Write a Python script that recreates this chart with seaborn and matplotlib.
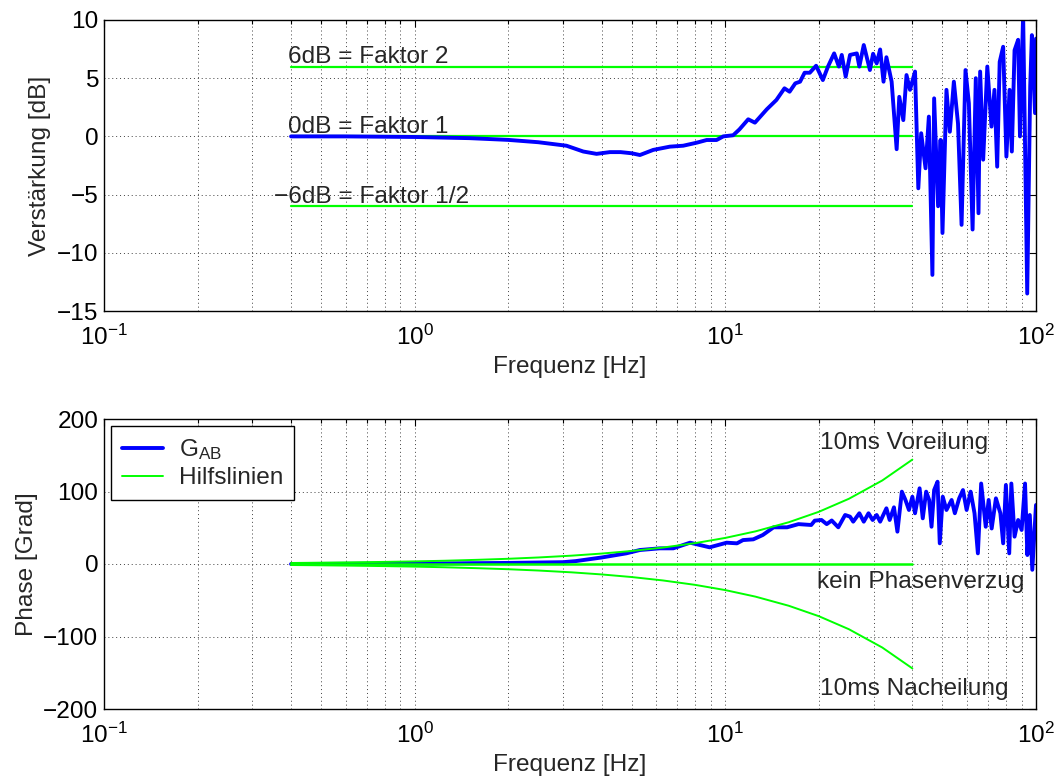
import numpy as np
import pandas as pd
import matplotlib
matplotlib.use("Agg")
import matplotlib.pyplot as plt
import seaborn as sns

# ---------------- data ----------------
gain_freq = [0.4, 0.6, 1.0, 1.5, 2.0, 2.5, 3.08, 3.49, 3.85, 4.25, 4.6, 5.0, 5.31, 5.86, 6.63, 7.32,
             8.09, 8.71, 9.37, 9.85, 10.6, 11.1, 11.85, 12.45, 13.6, 14.6, 15.5, 16.1, 16.8, 17.4,
             18.0, 18.7, 19.6, 20.6, 21.4, 22.4, 23.2, 23.7, 24.4, 25.2, 26.5, 27.0, 27.9, 29.2,
             29.9, 30.7, 31.5, 32.3, 33.0, 34.3, 35.6, 36.3, 37.4, 38.3, 39.3, 40.8, 41.8, 42.7,
             44.1, 45.2, 46.4, 47.0, 48.4, 49.3, 50.0, 51.5, 52.8, 54.4, 56.1, 57.6, 59.3, 60.8,
             62.5, 64.0, 65.3, 66.1, 67.6, 69.7, 71.9, 73.5, 75.0, 76.4, 78.4, 80.3, 82.2, 83.6,
             85.3, 87.6, 88.8, 90.9, 93.7, 95.8, 97.0, 99.3, 100.0]
gain_db = [0.0, 0.0, -0.05, -0.15, -0.3, -0.5, -0.8, -1.3, -1.5, -1.35, -1.35, -1.45, -1.6, -1.16,
           -0.88, -0.8, -0.54, -0.31, -0.31, 0.0, 0.1, 0.6, 1.47, 1.18, 2.33, 3.13, 4.13, 3.84,
           4.56, 4.7, 5.47, 5.47, 6.07, 4.84, 6.0, 7.13, 6.0, 7.0, 5.13, 7.0, 7.13, 6.0, 7.85,
           5.7, 7.1, 6.27, 7.47, 4.7, 6.8, 4.7, -1.1, 3.4, 1.4, 5.27, 4.0, 5.57, -4.46, 0.27,
           -2.74, 1.7, -11.9, 3.27, -6.0, -0.3, -8.3, 4.0, 0.4, 4.7, 1.1, -7.6, 5.7, 2.85,
           -8.0, 5.0, -6.6, 5.57, -2.0, 6.0, 0.84, 4.0, -2.6, 6.4, 7.7, -1.74, 4.0, -1.3,
           7.4, 8.3, 0.0, 10.5, -13.5, 4.3, 8.7, 2.0, 8.4]

phase_freq = [0.4, 1.0, 2.0, 3.0, 3.3, 4.0, 4.8, 5.31, 6.15, 6.8, 7.7, 8.9, 10.1, 10.9, 11.4, 12.3,
              13.2, 14.3, 15.8, 17.2, 18.9, 19.4, 20.4, 21.2, 22.0, 23.1, 24.3, 25.2, 25.8, 27.0,
              27.9, 28.9, 29.8, 30.7, 31.5, 33.0, 33.8, 34.9, 35.8, 37.0, 38.0, 39.0, 40.0, 40.8,
              42.2, 43.2, 44.3, 45.3, 46.1, 47.0, 48.2, 49.0, 50.1, 51.5, 53.5, 54.8, 56.6, 58.2,
              59.8, 61.6, 63.4, 65.0, 66.6, 68.9, 70.4, 72.0, 74.3, 76.8, 78.4, 80.0, 82.0, 83.3,
              85.3, 87.6, 89.9, 92.2, 93.8, 95.5, 97.3, 100.0]
phase_deg = [0.0, 0.5, 1.5, 2.5, 4.0, 9.0, 14.7, 19.3, 21.6, 21.6, 29.4, 23.0, 29.4, 28.5, 33.0,
             34.0, 40.0, 50.6, 50.6, 55.0, 53.8, 59.8, 60.7, 55.0, 60.0, 50.6, 67.6, 65.3, 58.4,
             70.0, 58.4, 70.0, 60.7, 67.6, 58.4, 76.8, 60.7, 78.2, 44.6, 99.8, 88.3, 74.5, 92.8,
             70.0, 104.4, 63.0, 99.8, 88.3, 51.4, 102.0, 113.5, 28.5, 92.8, 74.5, 88.3, 70.0,
             90.6, 102.0, 74.5, 99.8, 70.0, 14.7, 111.0, 51.4, 88.3, 49.0, 90.6, 70.0, 28.5,
             109.0, 14.7, 111.0, 37.7, 60.7, 46.9, 111.0, 12.4, 67.6, -8.0, 81.4]

help_freq = [0.4, 0.5, 0.63, 0.8, 1.0, 1.25, 1.6, 2.0, 2.5, 3.2, 4.0, 5.0, 6.3, 8.0, 10.0,
             12.5, 16.0, 20.0, 25.0, 32.0, 40.0]
lead_deg = [1.4, 1.8, 2.3, 2.9, 3.6, 4.5, 5.8, 7.2, 9.0, 11.5, 14.4, 18.0, 22.7, 28.8, 36.0,
            45.0, 57.6, 72.0, 90.0, 115.2, 144.0]
lag_deg = [-v for v in lead_deg]
flat_freq = [0.4, 40.0]
flat_zero = [0.0, 0.0]
db_levels = [6.0, 0.0, -6.0]
db_labels = ["6dB = Faktor 2", "0dB = Faktor 1", "\u22126dB = Faktor 1/2"]

# ---------------- style ----------------
FS = 17.6
sns.set_theme(style="white")
plt.rcParams["font.family"] = ["Liberation Sans", "DejaVu Sans"]
plt.rcParams["font.size"] = FS
plt.rcParams["axes.unicode_minus"] = True
plt.rcParams["mathtext.fontset"] = "custom"
plt.rcParams["mathtext.rm"] = "Liberation Sans"
plt.rcParams["mathtext.it"] = "Liberation Sans:italic"
plt.rcParams["mathtext.bf"] = "Liberation Sans:bold"

BLUE = "#0000FF"
GREEN = "#00FF00"

fig = plt.figure(figsize=(10.56, 7.78), dpi=100)
ax1 = fig.add_axes([104 / 1056, (778 - 311) / 778, 932 / 1056, 291 / 778])
ax2 = fig.add_axes([104 / 1056, (778 - 709) / 778, 932 / 1056, 290 / 778])


def style_axes(ax, ylim, yticks):
    ax.set_xscale("log")
    ax.set_xlim(0.1, 100)
    ax.set_ylim(*ylim)
    ax.set_yticks(yticks)
    ax.grid(True, which="major", axis="both", color="0.25", linestyle=(0, (1, 3)), linewidth=0.7)
    ax.grid(True, which="minor", axis="x", color="0.25", linestyle=(0, (1, 3)), linewidth=0.7)
    ax.tick_params(which="both", direction="in", top=True, right=True, labelsize=FS,
                   colors="black", width=0.8)
    ax.tick_params(which="major", length=5)
    ax.tick_params(which="minor", length=3)
    ax.tick_params(axis="x", pad=10)
    ax.tick_params(axis="y", pad=4)
    for s in ax.spines.values():
        s.set_color("black")
        s.set_linewidth(1.0)
    ax.set_xlabel("Frequenz [Hz]", fontsize=FS, labelpad=4)
    ax.set_facecolor("white")


# ---------------- top: gain ----------------
for lvl in db_levels:
    sns.lineplot(x=flat_freq, y=[lvl, lvl], ax=ax1, color=GREEN, linewidth=1.6,
                 estimator=None, sort=False)
sns.lineplot(x=gain_freq, y=gain_db, ax=ax1, color=BLUE, linewidth=2.8,
             estimator=None, sort=False)
for lvl, lab, xx in zip(db_levels, db_labels, [0.39, 0.39, 0.352]):
    ax1.text(xx, lvl + 0.3, lab, ha="left", va="baseline", fontsize=FS)
style_axes(ax1, (-15, 10), [-15, -10, -5, 0, 5, 10])
ax1.set_ylabel("Verstärkung [dB]", fontsize=FS)

# ---------------- bottom: phase ----------------
sns.lineplot(x=phase_freq, y=phase_deg, ax=ax2, color=BLUE, linewidth=2.8,
             estimator=None, sort=False, label="G$_{\\mathregular{AB}}$")
sns.lineplot(x=help_freq, y=lead_deg, ax=ax2, color=GREEN, linewidth=1.4,
             estimator=None, sort=False, label="Hilfslinien")
sns.lineplot(x=flat_freq, y=flat_zero, ax=ax2, color=GREEN, linewidth=1.8,
             estimator=None, sort=False)
sns.lineplot(x=help_freq, y=lag_deg, ax=ax2, color=GREEN, linewidth=1.4,
             estimator=None, sort=False)
ax2.text(20.2, 158, "10ms Voreilung", ha="left", va="baseline", fontsize=FS)
ax2.text(19.8, -33.5, "kein Phasenverzug", ha="left", va="baseline", fontsize=FS)
ax2.text(20.2, -181, "10ms Nacheilung", ha="left", va="baseline", fontsize=FS)
style_axes(ax2, (-200, 200), [-200, -100, 0, 100, 200])
ax2.set_ylabel("Phase [Grad]", fontsize=FS)

leg = ax2.legend(loc="upper left", fontsize=FS, frameon=True, fancybox=False,
                 borderaxespad=0.3, handlelength=1.65, borderpad=0.45, labelspacing=0.2,
                 handletextpad=0.65)
leg.get_frame().set_edgecolor("black")
leg.get_frame().set_linewidth(1.0)
leg.get_frame().set_alpha(1.0)

fig.savefig("out.png", dpi=100, facecolor="white")
